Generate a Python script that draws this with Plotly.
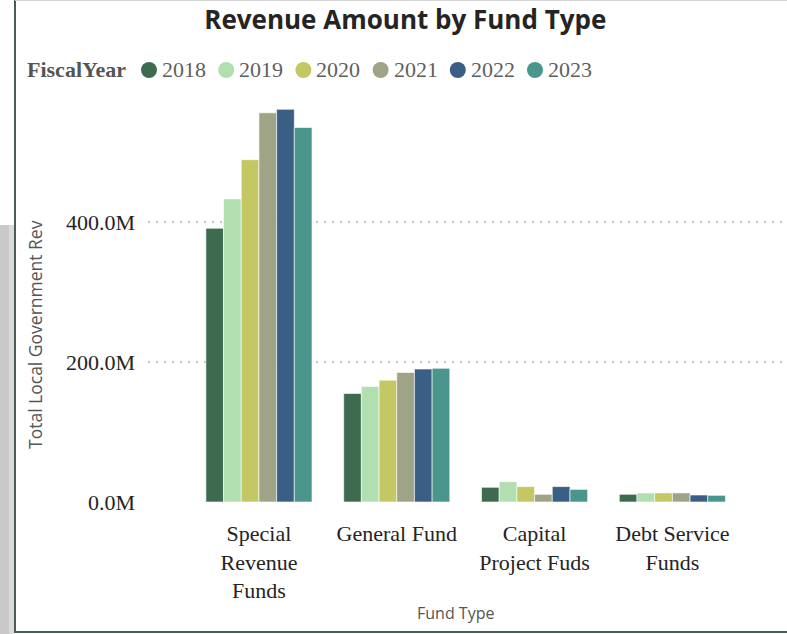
import plotly.graph_objects as go

# values in millions
fund_types = ["Special<br>Revenue<br>Funds", "General Fund", "Capital<br>Project Fuds", "Debt Service<br>Funds"]
years = ["2018", "2019", "2020", "2021", "2022", "2023"]
rev_2018 = [391, 155, 21, 11]
rev_2019 = [433, 165, 29, 13]
rev_2020 = [489, 174, 22, 13]
rev_2021 = [556, 185, 11, 13]
rev_2022 = [561, 190, 22, 10]
rev_2023 = [535, 191, 18, 9.5]
year_colors = ["#3E6B50", "#B2DFB0", "#C4C864", "#A0A487", "#3B5E84", "#4A968C"]
y_ticks = [0, 200, 400]
y_tick_text = ["0.0M", "200.0M", "400.0M"]

series = [rev_2018, rev_2019, rev_2020, rev_2021, rev_2022, rev_2023]

W, H = 787, 634
ML, MR, MT, MB = 148, 2, 96, 132
PW, PH = W - ML - MR, H - MT - MB


def px_x(px):
    return (px - ML) / PW


def px_y(py):
    return (H - MB - py) / PH


fig = go.Figure()
for yr, vals, col in zip(years, series, year_colors):
    fig.add_trace(go.Bar(
        x=fund_types, y=[v * 1e6 for v in vals], name=yr,
        marker=dict(color=col, line=dict(color="rgba(255,255,255,0.6)", width=1)),
        showlegend=False,
    ))

shapes = [
    # grey backdrop left of the visual
    dict(type="rect", xref="paper", yref="paper", x0=px_x(0), x1=px_x(9),
         y0=px_y(634), y1=px_y(225), fillcolor="#c9c9c9", line=dict(width=0), layer="below"),
    dict(type="rect", xref="paper", yref="paper", x0=px_x(9), x1=px_x(14),
         y0=px_y(634), y1=px_y(225), fillcolor="#dadada", line=dict(width=0), layer="below"),
    # visual border
    dict(type="line", xref="paper", yref="paper", x0=px_x(15), x1=px_x(15),
         y0=px_y(0), y1=px_y(633), line=dict(color="#4d5a56", width=2)),
    dict(type="line", xref="paper", yref="paper", x0=px_x(15), x1=px_x(787),
         y0=px_y(632), y1=px_y(632), line=dict(color="#4d5a56", width=2)),
    dict(type="line", xref="paper", yref="paper", x0=px_x(15), x1=px_x(787),
         y0=px_y(0.5), y1=px_y(0.5), line=dict(color="#d4d4d4", width=1)),
]

annotations = [
    dict(text="Total Local Government Rev", xref="paper", yref="paper",
         x=px_x(35), y=px_y(335), textangle=-90, showarrow=False,
         xanchor="center", yanchor="middle",
         font=dict(family="Open Sans", size=17.5, color="#555")),
    dict(text="Fund Type", xref="paper", yref="paper",
         x=px_x(455), y=px_y(613), showarrow=False,
         xanchor="center", yanchor="middle",
         font=dict(family="Open Sans", size=16, color="#555")),
    dict(text="<b>FiscalYear</b>", xref="paper", yref="paper",
         x=px_x(25), y=px_y(70), showarrow=False, xanchor="left", yanchor="middle",
         font=dict(family="Liberation Serif", size=22, color="#555")),
]

# Power BI style legend: round markers followed by the year
leg_x0, leg_step, leg_y = 149, 77.2, 70
for i, (yr, col) in enumerate(zip(years, year_colors)):
    cx = leg_x0 + i * leg_step
    shapes.append(dict(type="circle", xref="paper", yref="paper",
                       x0=px_x(cx - 8), x1=px_x(cx + 8), y0=px_y(leg_y + 8), y1=px_y(leg_y - 8),
                       fillcolor=col, line=dict(width=0)))
    annotations.append(dict(text=yr, xref="paper", yref="paper", x=px_x(cx + 11), y=px_y(leg_y),
                            showarrow=False, xanchor="left", yanchor="middle",
                            font=dict(family="Liberation Serif", size=22, color="#5f5f5f")))

fig.update_layout(
    width=W, height=H,
    margin=dict(l=ML, r=MR, t=MT, b=MB),
    paper_bgcolor="white", plot_bgcolor="white",
    barmode="group", bargap=0.23, bargroupgap=0,
    showlegend=False,
    title=dict(text="<b>Revenue Amount by Fund Type</b>", x=0.515, xanchor="center",
               y=1 - 20 / H, yanchor="middle",
               font=dict(family="Open Sans", size=26, color="#252423")),
    xaxis=dict(type="category", range=[-0.805, 3.817], showgrid=False, showline=False,
               zeroline=False, ticks="", ticklabelstandoff=16,
               tickfont=dict(family="Liberation Serif", size=22, color="#252423")),
    yaxis=dict(range=[0, 580e6], tickvals=[v * 1e6 for v in y_ticks], ticktext=y_tick_text,
               showgrid=True, gridcolor="#c4c4c4", griddash="2px,6px", gridwidth=2,
               zeroline=False, showline=False, ticks="", ticklabelstandoff=12,
               tickfont=dict(family="Liberation Serif", size=22, color="#252423")),
    shapes=shapes,
    annotations=annotations,
)

fig.write_html("out.html", config={"displayModeBar": False},
               post_script="document.body.style.margin='0';")
